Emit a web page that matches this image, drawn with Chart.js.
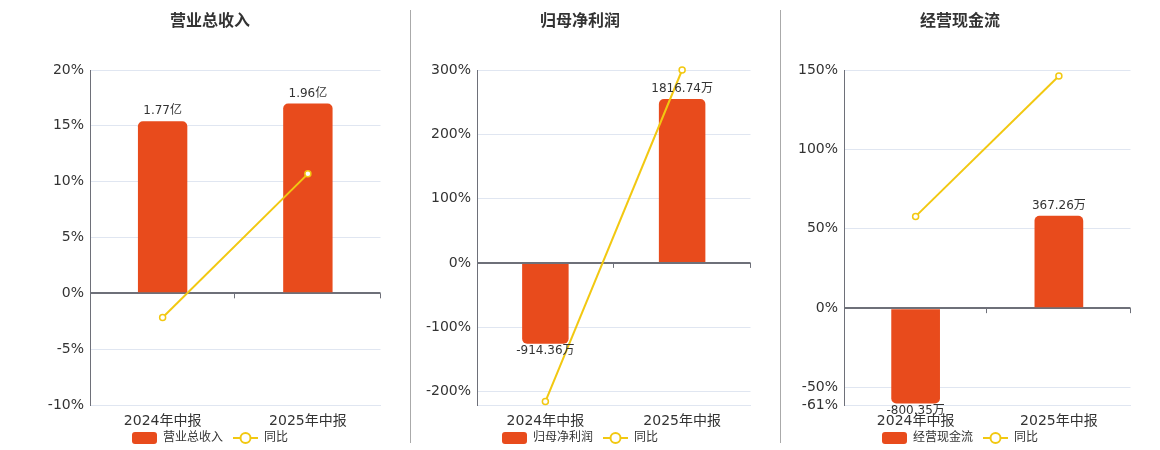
<!DOCTYPE html>
<html>
<head>
<meta charset="utf-8">
<script src="https://cdn.jsdelivr.net/npm/chart.js@4.4.1/dist/chart.umd.min.js"></script>
<style>
    html, body { margin: 0; padding: 0; background: #fff; overflow: hidden; }
    body { width: 1160px; height: 450px; position: relative; }
    .panel { position: absolute; top: 0; }
    .sep { position: absolute; top: 10px; width: 1px; height: 433px; background: #aaaaaa; }
</style>
</head>
<body>
<div class="panel" style="left:32px"><canvas id="revenueChart" width="354" height="463"></canvas></div>
<div class="panel" style="left:402px"><canvas id="profitChart" width="354" height="463"></canvas></div>
<div class="panel" style="left:782px"><canvas id="cashChart" width="354" height="463"></canvas></div>
<div class="sep" style="left:410px"></div>
<div class="sep" style="left:780px"></div>
<script>
// 공통 카테고리
const categories = ['2024年中报', '2025年中报'];

// 营业总收入
const revenueBar = [15.4, 17.0];          // 막대 높이 (축 단위)
const revenueBarText = ['1.77亿', '1.96亿'];
const revenueYoy = [-2.16, 10.7];
const revenueTicks = [-10, -5, 0, 5, 10, 15, 20];

// 归母净利润
const profitBar = [-125.8, 255];
const profitBarText = ['-914.36万', '1816.74万'];
const profitYoy = [-215.7, 300];
const profitTicks = [-200, -100, 0, 100, 200, 300];

// 经营现金流
const cashBar = [-60.1, 58.2];
const cashBarText = ['-800.35万', '367.26万'];
const cashYoy = [57.8, 146.2];
const cashTicks = [-61, -50, 0, 50, 100, 150];

const BAR_COLOR = '#E84B1C';
const LINE_COLOR = '#F2C811';
const AXIS_COLOR = '#6E7079';
const GRID_COLOR = '#E0E6F1';
const TEXT_COLOR = '#333333';
const FONT = "'DejaVu Sans', 'Noto Sans CJK SC', sans-serif";

// 범례 아이콘
function barIcon() {
    const c = document.createElement('canvas');
    c.width = 25; c.height = 12;
    const ctx = c.getContext('2d');
    ctx.fillStyle = BAR_COLOR;
    ctx.beginPath();
    ctx.roundRect(0, 0, 25, 12, 3);
    ctx.fill();
    return c;
}

function lineIcon() {
    const c = document.createElement('canvas');
    c.width = 25; c.height = 14;
    const ctx = c.getContext('2d');
    ctx.strokeStyle = LINE_COLOR;
    ctx.lineWidth = 2;
    ctx.beginPath();
    ctx.moveTo(0, 7); ctx.lineTo(25, 7);
    ctx.stroke();
    ctx.fillStyle = '#fff';
    ctx.beginPath();
    ctx.arc(12.5, 7, 5, 0, Math.PI * 2);
    ctx.fill();
    ctx.stroke();
    return c;
}

// 막대 위/아래 값 표시 + 0 기준선 눈금 + 범례 위치 보정
const barTextPlugin = {
    id: 'barText',
    afterLayout(chart, args, opts) {
        // x축 라벨 영역과 범례를 조금 겹치게
        chart.legend.top -= opts.legendShift;
        chart.legend.bottom -= opts.legendShift;
    },
    afterDatasetsDraw(chart, args, opts) {
        const ctx = chart.ctx;
        const meta = chart.getDatasetMeta(0);
        ctx.save();
        ctx.font = '12px ' + FONT;
        ctx.fillStyle = TEXT_COLOR;
        ctx.textAlign = 'center';
        meta.data.forEach((bar, i) => {
            const v = chart.data.datasets[0].data[i];
            if (v >= 0) {
                ctx.textBaseline = 'bottom';
                ctx.fillText(opts.texts[i], bar.x, bar.y - 4);
            } else {
                ctx.textBaseline = 'top';
                ctx.fillText(opts.texts[i], bar.x, bar.y + 1);
            }
        });
        ctx.restore();
    },
    afterDraw(chart) {
        const ctx = chart.ctx;
        const xs = chart.scales.x;
        const y0 = chart.scales.y.getPixelForValue(0);
        const step = (xs.right - xs.left) / chart.data.labels.length;
        ctx.save();
        ctx.strokeStyle = AXIS_COLOR;
        ctx.lineWidth = 1;
        for (let i = 1; i <= chart.data.labels.length; i++) {
            const x = Math.round(xs.left + step * i) - 0.5;
            ctx.beginPath();
            ctx.moveTo(x, y0);
            ctx.lineTo(x, y0 + 5);
            ctx.stroke();
        }
        ctx.restore();
    }
};

function makeChart(id, title, barValues, barTexts, yoyValues, ticks, yMin, yWidth) {
    const ctx = document.getElementById(id).getContext('2d');
    return new Chart(ctx, {
        type: 'bar',
        data: {
            labels: categories,
            datasets: [{
                type: 'bar',
                label: title,
                data: barValues,
                backgroundColor: BAR_COLOR,
                borderRadius: 5,
                borderSkipped: 'start',
                categoryPercentage: 1,
                barPercentage: 0.34,
                order: 1
            }, {
                type: 'line',
                label: '同比',
                data: yoyValues,
                borderColor: LINE_COLOR,
                borderWidth: 2,
                pointRadius: 3,
                pointBorderWidth: 1.5,
                pointBackgroundColor: '#fff',
                pointBorderColor: LINE_COLOR,
                clip: false,
                order: 0
            }]
        },
        options: {
            responsive: false,
            animation: false,
            devicePixelRatio: 1,
            layout: { padding: { left: 2, right: 0, top: 0, bottom: 0 } },
            scales: {
                x: {
                    grid: { display: false, drawTicks: false },
                    border: { color: GRID_COLOR },
                    ticks: { color: TEXT_COLOR, font: { family: FONT, size: 14 }, padding: 8 },
                    afterFit: function(scale) { scale.height = 26; }
                },
                y: {
                    min: yMin,
                    max: ticks[ticks.length - 1],
                    afterBuildTicks: function(scale) {
                        scale.ticks = ticks.map(v => ({ value: v }));
                    },
                    afterFit: function(scale) { scale.width = yWidth; },
                    grid: {
                        drawTicks: false,
                        color: c => c.tick && c.tick.value === 0 ? AXIS_COLOR : GRID_COLOR,
                        lineWidth: c => c.tick && c.tick.value === 0 ? 2 : 1
                    },
                    border: { color: AXIS_COLOR, width: 1 },
                    ticks: {
                        color: TEXT_COLOR,
                        font: { family: FONT, size: 14 },
                        padding: 6,
                        callback: v => v + '%'
                    }
                }
            },
            plugins: {
                title: {
                    display: true,
                    text: title,
                    color: TEXT_COLOR,
                    font: { family: FONT, size: 16, weight: 'bold' },
                    padding: { top: 12.4, bottom: 38.4 }
                },
                legend: {
                    position: 'bottom',
                    labels: {
                        usePointStyle: true,
                        pointStyleWidth: 25,
                        boxHeight: 12,
                        padding: 10,
                        color: TEXT_COLOR,
                        font: { family: FONT, size: 12 },
                        generateLabels: function(chart) {
                            return [
                                { text: title, pointStyle: barIcon(), datasetIndex: 0, fontColor: TEXT_COLOR },
                                { text: '同比', pointStyle: lineIcon(), datasetIndex: 1, fontColor: TEXT_COLOR }
                            ];
                        }
                    }
                },
                tooltip: { enabled: false },
                barText: { texts: barTexts, legendShift: 9 }
            }
        },
        plugins: [barTextPlugin]
    });
}

makeChart('revenueChart', '营业总收入', revenueBar, revenueBarText, revenueYoy, revenueTicks, -10, 56);
makeChart('profitChart', '归母净利润', profitBar, profitBarText, profitYoy, profitTicks, -221, 73);
makeChart('cashChart', '经营现金流', cashBar, cashBarText, cashYoy, cashTicks, -61, 60);
</script>
</body>
</html>
